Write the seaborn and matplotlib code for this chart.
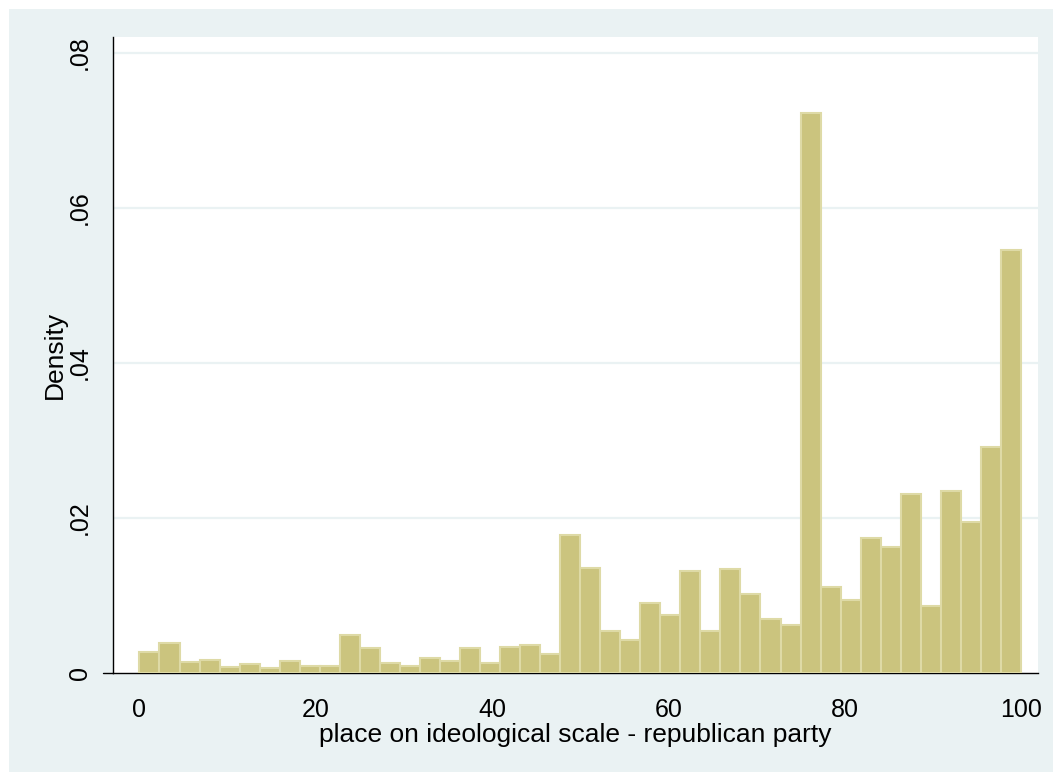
import numpy as np
import pandas as pd
import matplotlib
matplotlib.use("Agg")
import matplotlib.pyplot as plt
import seaborn as sns
from matplotlib.patches import Rectangle

# Histogram densities, 44 equal bins from 0 to 100
n_bins = 44
densities = [
    0.00271, 0.00387, 0.00146, 0.00172, 0.00077, 0.00120, 0.00065, 0.00159,
    0.00090, 0.00090, 0.00495, 0.00318, 0.00129, 0.00095, 0.00189, 0.00159,
    0.00318, 0.00129, 0.00335, 0.00361, 0.00250, 0.01780, 0.01355, 0.00542,
    0.00426, 0.00898, 0.00748, 0.01311, 0.00537, 0.01342, 0.01020, 0.00692,
    0.00623, 0.07220, 0.01114, 0.00940, 0.01743, 0.01629, 0.02312, 0.00861,
    0.02351, 0.01950, 0.02911, 0.05455,
]
x_ticks = [0, 20, 40, 60, 80, 100]
y_ticks = [0, 0.02, 0.04, 0.06, 0.08]
y_tick_labels = ["0", ".02", ".04", ".06", ".08"]

edges = np.linspace(0, 100, n_bins + 1)
df = pd.DataFrame({
    "score": (edges[:-1] + edges[1:]) / 2,
    "density": densities,
})

sns.set_style("white")
plt.rcParams["font.family"] = ["Liberation Sans", "DejaVu Sans"]
plt.rcParams["text.color"] = "black"
plt.rcParams["axes.labelcolor"] = "black"

W, H = 1053, 772
fig = plt.figure(figsize=(W / 100, H / 100), dpi=100, facecolor="white")
# light bluish-gray outer panel (Stata s2color look)
fig.patches.append(Rectangle((9 / W, 0), 1, 1 - 9 / H, transform=fig.transFigure,
                             facecolor="#EAF2F3", edgecolor="none", zorder=-10))

ax = fig.add_axes([113 / W, 1 - 673 / H, (1038 - 113) / W, (673 - 37) / H])
ax.set_facecolor("white")

sns.histplot(data=df, x="score", weights="density", bins=edges.tolist(),
             stat="count", color="#CBC47E", edgecolor="#DEDAA6", linewidth=1.5,
             alpha=1, ax=ax, zorder=3)

ax.set_xlim(-3.0, 101.94)
ax.set_ylim(0, 0.082)

ax.set_yticks(y_ticks)
ax.set_yticklabels(y_tick_labels, rotation=90, va="center")
ax.set_xticks(x_ticks)
ax.set_xticklabels([str(t) for t in x_ticks])

for y in y_ticks[1:]:
    ax.axhline(y, color="#EAF2F3", linewidth=1.6, zorder=1)

for s in ["top", "right"]:
    ax.spines[s].set_visible(False)
ax.spines["left"].set_color("black")
ax.spines["bottom"].set_color("black")
ax.spines["left"].set_linewidth(1.0)
ax.spines["bottom"].set_linewidth(1.0)
# x axis line extends slightly to the left of the y axis
ax.plot([-0.011, 0], [0, 0], transform=ax.transAxes, color="black",
        linewidth=1.0, clip_on=False)

ax.tick_params(axis="both", direction="out", length=10, width=1.0,
               color="black", labelsize=18, labelcolor="black")
ax.tick_params(axis="y", pad=5)
ax.tick_params(axis="x", pad=8)

ax.set_xlabel("place on ideological scale - republican party", fontsize=19,
              color="black", labelpad=1)
ax.set_ylabel("Density", fontsize=19, color="black", labelpad=1)

fig.savefig("out.png", dpi=100, facecolor=fig.get_facecolor())
